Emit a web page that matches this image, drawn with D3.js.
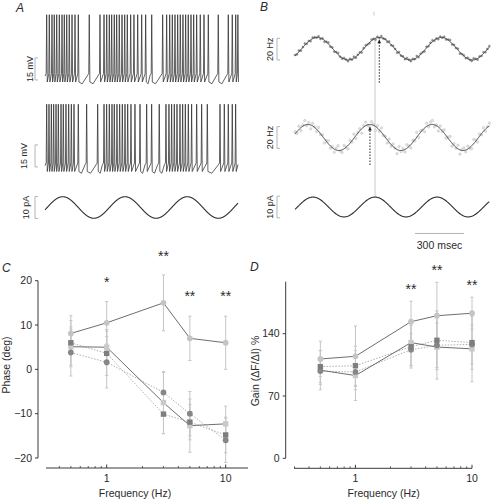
<!DOCTYPE html>
<html><head><meta charset="utf-8">
<script src="https://cdn.jsdelivr.net/npm/d3@7"></script>
<style>
body{margin:0;background:#fff}
svg{display:block}
text{font-family:"Liberation Sans",Arial,Helvetica,sans-serif;fill:#2a2a2a}
</style>
</head><body>
<svg id="fig" width="492" height="499"></svg>
<script>
// ================= DATA =================
// Panel A: spike times (ms) of the two voltage traces, sinusoidal stimulus
const spikesA1 = [27,69,112,149,188,230,273,310,349,390,434,482,535,711,883,948,991,1033,1071,1113,1151,1193,1237,1280,1322,1376,1429,1489,1553,1617,1714,1890,1954,2003,2045,2088,2131,2173,2216,2259,2301,2345,2388,2436,2494,2554,2623,2783,2944,3008,3063,3098];
const spikesA2 = [27,64,102,139,177,214,257,294,337,380,423,466,535,669,846,948,990,1033,1076,1113,1156,1199,1242,1285,1328,1381,1445,1526,1633,1713,1835,1943,1991,2034,2077,2120,2168,2211,2254,2302,2355,2436,2516,2607,2811,2880,2944,3008,3062];
const voltLevels = {peak: 15.8, threshold: -24.2, trough: -30, ahp: -31.2}; // mV
const stimA = {amp: 4.9, period: 1000, peakAt: 285}; // pA, ms, ms
const durA = 3100; // ms

// Panel B: firing-rate fits and residuals of the rate points (Hz)
const durB = 1190; // ms
const stimB = {amp: 4.6, period: 380, peakAt: 490};
const rateFitTop = {mean: 30, amp: 10.4, period: 380, peakAt: 516};
const rateFitMid = {mean: 30, amp: 12.0, period: 380, peakAt: 459};
const residTop = [0.8,-0.5,1.2,-1.0,0.3,1.5,-0.7,0.2,-1.3,0.9,0.4,-0.2,1.1,-0.9,0.6,-1.4,0.1,1.3,-0.6,0.7,-1.1,0.5,1.6,-0.3,-0.8,1.0,0.2,-1.2,0.9,-0.4,1.4,-0.9,0.3,0.7,-1.5,0.6,1.2,-0.1,-0.7,1.0,0.4,-1.3,0.8,-0.5,1.5,-0.2,0.3,-1.0,1.1,-0.6,0.9,0.1,-1.4,1.3,-0.3,0.6,-0.8,1.2,0.2,-1.1,0.7,-0.4,1.6,-0.9,0.5,0.0,-1.2,1.0,-0.5,0.8,1.3,-0.7,0.3,-1.3,0.9,-0.2,1.1,-0.8,0.4,1.5,-1.0,0.6,-0.3,1.2,-1.4,0.2,0.8,-0.6,1.0,-0.1,-0.9,1.4,0.5,-1.1,0.7,-0.4,1.2,-0.7,0.3,0.9];
const residMid = [2.1,-1.5,3.0,-2.8,0.9,4.2,-1.0,1.8,-3.5,2.5,0.4,-2.2,3.6,-0.8,1.5,-3.9,0.7,2.8,-1.9,1.1,-3.0,2.0,4.5,-0.6,-2.4,3.1,0.2,-3.3,2.6,-1.2,3.8,-2.7,0.5,1.9,-4.1,1.4,3.3,-0.4,-2.0,2.7,0.9,-3.6,2.2,-1.3,4.0,-0.7,0.8,-2.9,3.0,-1.6,2.4,0.3,-3.8,3.5,-0.9,1.7,-2.3,3.2,0.6,-3.1,1.9,-1.1,4.4,-2.5,1.3,0.1,-3.4,2.9,-1.4,2.2,3.7,-1.8,0.8,-3.7,2.5,-0.5,3.1,-2.2,1.0,4.1,-2.8,1.6,-0.9,3.3,-3.9,0.6,2.3,-1.7,2.8,-0.3,-2.6,3.9,1.2,-3.0,2.0,-1.1,3.4,-1.9,0.7,2.6];

// Panels C & D
const freqs = [0.5, 1, 3, 5, 10];
const phaseLightCircle = [8.1, 10.5, 15, 7, 6];
const phaseLightCircleErr = [4, 4.8, 6.3, 5, 6];
const phaseLightSquare = [5.1, 5, -7.5, -12.7, -12.3];
const phaseLightSquareErr = [4.5, 4, 7, 6, 4];
const phaseDarkSquare = [6, 3.6, -10.1, -11.9, -14.8];
const phaseDarkSquareErr = [5, 5, 4.4, 4, 4];
const phaseDarkCircle = [3.8, 1.6, -5.2, -10, -16];
const phaseDarkCircleErr = [5.3, 5.8, 4.5, 5, 5];

const gainLightCircle = [111.6, 114.6, 153.5, 160.2, 163];
const gainLightCircleErr = [20, 34, 23, 37.5, 18];
const gainLightSquare = [99, 93, 130, 125, 123];
const gainLightSquareErr = [22, 28, 26, 36, 37];
const gainDarkSquare = [103, 104, 125.4, 132.6, 130];
const gainDarkSquareErr = [18, 22, 24, 33, 30];
const gainDarkCircle = [98, 97, 122, 127, 128];
const gainDarkCircleErr = [15, 20, 18, 25, 22];

const phaseYTicks = [20, 10, 0, -10, -20];
const gainYTicks = [140, 70, 0];
const freqTickLabels = [1, 10];
const freqMinorTicks = [0.3,0.4,0.5,0.6,0.7,0.8,0.9,2,3,4,5,6,7,8,9];
const starsPhase = [{f:1, s:"*", v:18.5}, {f:3, s:"**", v:24.5}, {f:5, s:"**", v:15.5}, {f:10, s:"**", v:15.5}];
const starsGain = [{f:3, s:"**", v:185}, {f:5, s:"**", v:206}, {f:10, s:"**", v:189.5}];

// ================= DRAWING =================
const svg = d3.select("#fig");
const TRACE = "#2e2e2e", BAR = "#b4b4b4";

function label(x, y, txt, opts = {}) {
  const t = svg.append("text").attr("x", x).attr("y", y).text(txt)
    .attr("font-size", opts.size || 10.5)
    .attr("text-anchor", opts.anchor || "start");
  if (opts.italic) t.attr("font-style", "italic");
  if (opts.rotate) t.attr("transform", `rotate(-90,${x},${y})`);
  return t;
}
function bracket(x, y1, y2) {
  svg.append("path").attr("d", `M${x+3},${y1}H${x}V${y2}H${x+3}`)
    .attr("fill", "none").attr("stroke", BAR).attr("stroke-width", 1);
}
function sinePoints(p, xs, ys, dur, mean = 0) {
  return d3.range(0, dur + 1, 2).map(t =>
    [xs(t), ys(mean + p.amp * Math.cos(2 * Math.PI * (t - p.peakAt) / p.period))]);
}
const lineGen = d3.line();

// ---------- Panel A ----------
label(16, 11.5, "A", {size: 12, italic: true});
const xA = d3.scaleLinear().domain([0, durA]).range([45, 238]);
const yA1 = d3.scaleLinear().domain([-30, 15.8]).range([82, 14.7]);
const yA2 = d3.scaleLinear().domain([-30, 15.8]).range([171.5, 104.2]);
const yAs = d3.scaleLinear().domain([-5, 5]).range([218.5, 196.5]);

function spikeTrace(spikes, x, y) {
  const V = voltLevels;
  const pts = [[x(0), y(-26)]];
  spikes.forEach((t, i) => {
    const xs = x(t);
    if (i > 0) {
      const xp = x(spikes[i - 1]);
      const g = xs - xp;
      if (g > 6) {
        pts.push([xp + 0.6 + 0.3 * g, y(V.ahp)]);
        pts.push([xs - 1.6, y(V.threshold - 1.2)]);
      }
    }
    pts.push([xs - 0.5, y(V.threshold)], [xs, y(V.peak)], [xs + 0.6, y(V.trough)]);
  });
  const last = x(spikes[spikes.length - 1]);
  if (x(durA) > last + 1.5) pts.push([x(durA), y(V.threshold - 1)]);
  return pts;
}
svg.append("path").attr("d", lineGen(spikeTrace(spikesA1, xA, yA1)))
  .attr("fill", "none").attr("stroke", TRACE).attr("stroke-width", 0.75);
svg.append("path").attr("d", lineGen(spikeTrace(spikesA2, xA, yA2)))
  .attr("fill", "none").attr("stroke", TRACE).attr("stroke-width", 0.75);
svg.append("path").attr("d", lineGen(sinePoints(stimA, xA, yAs, durA)))
  .attr("fill", "none").attr("stroke", TRACE).attr("stroke-width", 1.1);

bracket(35, yA1(-13.6), yA1(-28.6));
label(33.5, (yA1(-13.6) + yA1(-28.6)) / 2, "15 mV", {size: 9, anchor: "middle", rotate: true});
bracket(35, yA2(-11.9), yA2(-26.9));
label(27.5, (yA2(-11.9) + yA2(-26.9)) / 2, "15 mV", {size: 9, anchor: "middle", rotate: true});
bracket(35, yAs(5), yAs(-5));
label(28.5, (yAs(5) + yAs(-5)) / 2, "10 pA", {size: 9, anchor: "middle", rotate: true});

// ---------- Panel B ----------
label(260, 11, "B", {size: 12, italic: true});
const pxPerMs = 0.16333;
const xB = d3.scaleLinear().domain([0, durB]).range([295, 295 + durB * pxPerMs]);
const yB1 = d3.scaleLinear().domain([30, 50]).range([48.7, 27.0]);
const yB2 = d3.scaleLinear().domain([30, 50]).range([137.5, 115.8]);
const yBs = d3.scaleLinear().domain([-5, 5]).range([217.8, 196.2]);

function fitVal(p, t) { return p.mean + p.amp * Math.cos(2 * Math.PI * (t - p.peakAt) / p.period); }

// vertical reference line
svg.append("line").attr("x1", xB(stimB.peakAt)).attr("x2", xB(stimB.peakAt))
  .attr("y1", 39).attr("y2", yBs(stimB.amp)).attr("stroke", "#cacaca").attr("stroke-width", 1);
svg.append("line").attr("x1", xB(stimB.peakAt) - 1).attr("x2", xB(stimB.peakAt) - 1)
  .attr("y1", 11.5).attr("y2", 15.5).attr("stroke", "#cacaca").attr("stroke-width", 1);

// rate points
const tTop = residTop.map((r, i) => i * durB / (residTop.length - 1));
svg.append("g").selectAll("circle").data(residTop).join("circle")
  .attr("cx", (r, i) => xB(tTop[i])).attr("cy", (r, i) => yB1(fitVal(rateFitTop, tTop[i]) + r))
  .attr("r", 1.0).attr("fill", "#8c8c8c").attr("stroke", "#777").attr("stroke-width", 0.4);
const tMid = residMid.map((r, i) => i * durB / (residMid.length - 1));
svg.append("g").selectAll("circle").data(residMid).join("circle")
  .attr("cx", (r, i) => xB(tMid[i])).attr("cy", (r, i) => yB2(fitVal(rateFitMid, tMid[i]) + r))
  .attr("r", 1.2).attr("fill", "#e4e4e4").attr("stroke", "#c2c2c2").attr("stroke-width", 0.6);

// fits and stimulus
svg.append("path").attr("d", lineGen(sinePoints(rateFitTop, xB, yB1, durB, rateFitTop.mean)))
  .attr("fill", "none").attr("stroke", "#3a3a3a").attr("stroke-width", 1);
svg.append("path").attr("d", lineGen(sinePoints(rateFitMid, xB, yB2, durB, rateFitMid.mean)))
  .attr("fill", "none").attr("stroke", "#3a3a3a").attr("stroke-width", 1);
svg.append("path").attr("d", lineGen(sinePoints(stimB, xB, yBs, durB)))
  .attr("fill", "none").attr("stroke", TRACE).attr("stroke-width", 1.1);

// dotted arrows at the fitted peaks
function arrow(x, yTip, yTail) {
  svg.append("line").attr("x1", x).attr("x2", x).attr("y1", yTail).attr("y2", yTip + 3)
    .attr("stroke", "#222").attr("stroke-width", 1).attr("stroke-dasharray", "1.5,1.5");
  svg.append("path").attr("d", `M${x},${yTip}L${x - 1.8},${yTip + 4}L${x + 1.8},${yTip + 4}Z`).attr("fill", "#222");
}
arrow(xB(rateFitTop.peakAt), 39.3, 82.7);
arrow(xB(rateFitMid.peakAt), 126.5, 165);

bracket(277, yB1(39.6), yB1(19.6));
label(273.5, (yB1(39.6) + yB1(19.6)) / 2, "20 Hz", {size: 9, anchor: "middle", rotate: true});
bracket(277, yB2(40), yB2(20));
label(273, (yB2(40) + yB2(20)) / 2, "20 Hz", {size: 9, anchor: "middle", rotate: true});
bracket(277, yBs(5), yBs(-5));
label(273, (yBs(5) + yBs(-5)) / 2, "10 pA", {size: 9, anchor: "middle", rotate: true});

// 300 msec bar
svg.append("line").attr("x1", xB(735)).attr("x2", xB(1035)).attr("y1", 233.5).attr("y2", 233.5)
  .attr("stroke", BAR).attr("stroke-width", 1);
label((xB(735) + xB(1035)) / 2, 249, "300 msec", {size: 10.5, anchor: "middle"});

// ---------- Panels C & D ----------
const seriesStyle = [
  {key: "LightSquare", shape: "square", fill: "#c9c9c9", dash: null},
  {key: "DarkCircle", shape: "circle", fill: "#868686", dash: "1.5,1.5"},
  {key: "DarkSquare", shape: "square", fill: "#7e7e7e", dash: "1.5,1.5"},
  {key: "LightCircle", shape: "circle", fill: "#c4c4c4", dash: null}
];

function drawPanel(cfg) {
  const x = d3.scaleLog().domain(cfg.xDomain).range(cfg.xRange);
  const y = d3.scaleLinear().domain(cfg.yDomain).range(cfg.yRange);
  const g = svg.append("g");
  const AX = "#3a3a3a";
  // y axis
  g.append("line").attr("x1", cfg.yAxisX).attr("x2", cfg.yAxisX)
    .attr("y1", y(cfg.yAxisTop)).attr("y2", y(cfg.yAxisBottom)).attr("stroke", AX);
  cfg.yTicks.forEach(v => {
    g.append("line").attr("x1", cfg.yAxisX - 3).attr("x2", cfg.yAxisX).attr("y1", y(v)).attr("y2", y(v)).attr("stroke", AX);
    g.append("text").attr("x", cfg.yAxisX - 6).attr("y", y(v)).attr("dy", "0.36em")
      .attr("text-anchor", "end").attr("font-size", 10.5).text(v < 0 ? "\u2212" + Math.abs(v) : v);
  });
  // x axis
  g.append("line").attr("x1", cfg.xRange[0]).attr("x2", cfg.xRange[1])
    .attr("y1", cfg.xAxisY).attr("y2", cfg.xAxisY).attr("stroke", AX);
  freqMinorTicks.filter(f => f >= cfg.xDomain[0] && f <= cfg.xDomain[1]).forEach(f => {
    g.append("line").attr("x1", x(f)).attr("x2", x(f)).attr("y1", cfg.xAxisY - 2).attr("y2", cfg.xAxisY).attr("stroke", AX).attr("stroke-width", 0.8);
  });
  freqTickLabels.forEach(f => {
    g.append("line").attr("x1", x(f)).attr("x2", x(f)).attr("y1", cfg.xAxisY - 3.5).attr("y2", cfg.xAxisY).attr("stroke", AX);
    g.append("text").attr("x", x(f)).attr("y", cfg.xAxisY + 13.5).attr("text-anchor", "middle").attr("font-size", 10.5).text(f);
  });
  g.append("text").attr("x", cfg.xTitleX).attr("y", 497).attr("text-anchor", "middle").attr("font-size", 10.5).text("Frequency (Hz)");
  g.append("text").attr("x", cfg.yTitleX).attr("y", cfg.yTitleY).attr("text-anchor", "middle").attr("font-size", 10.5)
    .attr("transform", `rotate(-90,${cfg.yTitleX},${cfg.yTitleY})`).text(cfg.yTitle);

  // error bars
  seriesStyle.forEach(s => {
    const vals = cfg.data[s.key], errs = cfg.err[s.key];
    freqs.forEach((f, i) => {
      const cx = x(f), y1 = y(vals[i] + errs[i]), y2 = y(vals[i] - errs[i]);
      g.append("line").attr("x1", cx).attr("x2", cx).attr("y1", y1).attr("y2", y2).attr("stroke", "#c6c6c6").attr("stroke-width", 1);
      [y1, y2].forEach(yy => g.append("line").attr("x1", cx - 1.6).attr("x2", cx + 1.6).attr("y1", yy).attr("y2", yy).attr("stroke", "#c6c6c6").attr("stroke-width", 1));
    });
  });
  // lines: dotted first, then solid
  const ln = d3.line().x((d, i) => x(freqs[i])).y(d => y(d));
  [...seriesStyle.filter(s => s.dash), ...seriesStyle.filter(s => !s.dash)].forEach(s => {
    const p = g.append("path").attr("d", ln(cfg.data[s.key])).attr("fill", "none").attr("stroke-width", 1);
    if (s.dash) p.attr("stroke", "#b0b0b0").attr("stroke-dasharray", s.dash);
    else p.attr("stroke", "#6e6e6e");
  });
  // markers
  seriesStyle.forEach(s => {
    const vals = cfg.data[s.key];
    freqs.forEach((f, i) => {
      if (s.shape === "circle") {
        g.append("circle").attr("cx", x(f)).attr("cy", y(vals[i])).attr("r", 2.9).attr("fill", s.fill);
      } else {
        g.append("rect").attr("x", x(f) - 2.7).attr("y", y(vals[i]) - 2.7).attr("width", 5.4).attr("height", 5.4).attr("fill", s.fill);
      }
    });
  });
  // significance stars
  cfg.stars.forEach(st => {
    g.append("text").attr("x", x(st.f)).attr("y", y(st.v)).attr("text-anchor", "middle").attr("font-size", 14).text(st.s);
  });
}

label(2, 271.5, "C", {size: 12, italic: true});
drawPanel({
  xDomain: [0.309, 15.4], xRange: [46, 248], xAxisY: 468,
  yDomain: [-20, 20], yRange: [458, 280.7], yAxisX: 38, yAxisTop: 20, yAxisBottom: -20,
  yTicks: phaseYTicks, yTitle: "Phase (deg)", yTitleX: 10, yTitleY: 365, xTitleX: 135,
  data: {LightCircle: phaseLightCircle, LightSquare: phaseLightSquare, DarkSquare: phaseDarkSquare, DarkCircle: phaseDarkCircle},
  err: {LightCircle: phaseLightCircleErr, LightSquare: phaseLightSquareErr, DarkSquare: phaseDarkSquareErr, DarkCircle: phaseDarkCircleErr},
  stars: starsPhase
});

label(250, 271, "D", {size: 12, italic: true});
drawPanel({
  xDomain: [0.297, 10], xRange: [294, 472], xAxisY: 468.3,
  yDomain: [0, 140], yRange: [458.3, 333.7], yAxisX: 285.7, yAxisTop: 198.4, yAxisBottom: 0,
  yTicks: gainYTicks, yTitle: "Gain (\u0394F/\u0394I) %", yTitleX: 258.5, yTitleY: 371, xTitleX: 383.7,
  data: {LightCircle: gainLightCircle, LightSquare: gainLightSquare, DarkSquare: gainDarkSquare, DarkCircle: gainDarkCircle},
  err: {LightCircle: gainLightCircleErr, LightSquare: gainLightSquareErr, DarkSquare: gainDarkSquareErr, DarkCircle: gainDarkCircleErr},
  stars: starsGain
});
</script>
</body></html>
